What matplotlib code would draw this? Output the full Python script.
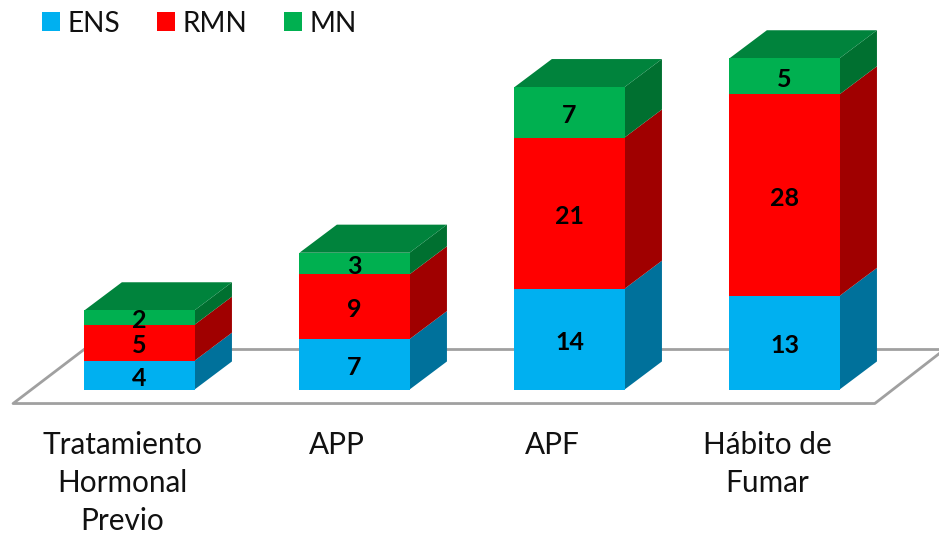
"""Stacked pseudo-3D bars of ENS, RMN and MN counts per risk factor."""

import matplotlib
matplotlib.use("Agg")
import matplotlib.pyplot as plt
from matplotlib.patches import Patch, Polygon

categories = ["Tratamiento\nHormonal\nPrevio", "APP", "APF", "Hábito de\nFumar"]
series_names = ["ENS", "RMN", "MN"]
ens = [4, 7, 14, 13]
rmn = [5, 9, 21, 28]
mn = [2, 3, 7, 5]

front_colors = ["#00B0F0", "#FF0000", "#00B050"]
side_colors = ["#00719B", "#A00000", "#007030"]
top_color = "#00833C"

bar_width = 0.512
depth_x = 0.174
depth_y = 3.9

plt.rcParams["font.family"] = ["Lato", "DejaVu Sans"]

fig = plt.figure(figsize=(9.39, 5.35), dpi=100)
ax = fig.add_axes([0, 0, 1, 1])
ax.set_xlim(-0.6488, 3.7186)
ax.set_ylim(-20.2, 54.1)
ax.axis("off")

# floor outline behind the bars
floor_x = [-0.252, -0.588, 3.42, 3.75]
floor_y = [5.7, -1.94, -1.94, 5.7]
ax.plot(floor_x, floor_y, color="#A0A0A0", lw=2.0, zorder=1)
ax.plot([-0.252, 3.75], [5.7, 5.7], color="#A0A0A0", lw=2.0, zorder=1)

for i, cat in enumerate(categories):
    left = i - bar_width / 2
    right = i + bar_width / 2
    bottom = 0
    for values, front, side in zip([ens, rmn, mn], front_colors, side_colors):
        top = bottom + values[i]
        ax.bar(i, values[i], bar_width, bottom=bottom, color=front, zorder=3)
        ax.add_patch(Polygon(
            [(right, bottom), (right + depth_x, bottom + depth_y),
             (right + depth_x, top + depth_y), (right, top)],
            facecolor=side, edgecolor="none", zorder=2))
        ax.text(i, bottom + values[i] / 2 - 0.4, str(values[i]), ha="center", va="center",
                fontsize=18, fontweight="bold", color="black", zorder=4)
        bottom = top
    ax.add_patch(Polygon(
        [(left, bottom), (right, bottom),
         (right + depth_x, bottom + depth_y), (left + depth_x, bottom + depth_y)],
        facecolor=top_color, edgecolor="none", zorder=2))
    # each line placed on its own so the spacing stays fixed
    for n, line in enumerate(cat.split("\n")):
        ax.text(i - 0.08, -8.95 - 5.25 * n, line, ha="center", va="baseline",
                fontsize=21.4, color="#111111")

handles = [Patch(facecolor=c, label=n) for c, n in zip(front_colors, series_names)]
ax.legend(handles=handles, loc="upper left", bbox_to_anchor=(0.021, 1.022), ncol=3,
          frameon=False, fontsize=20.2, handlelength=0.65, handleheight=0.65,
          handletextpad=0.26, columnspacing=1.3, borderpad=0.3, labelcolor="#111111")

fig.savefig("out.png", dpi=100)
